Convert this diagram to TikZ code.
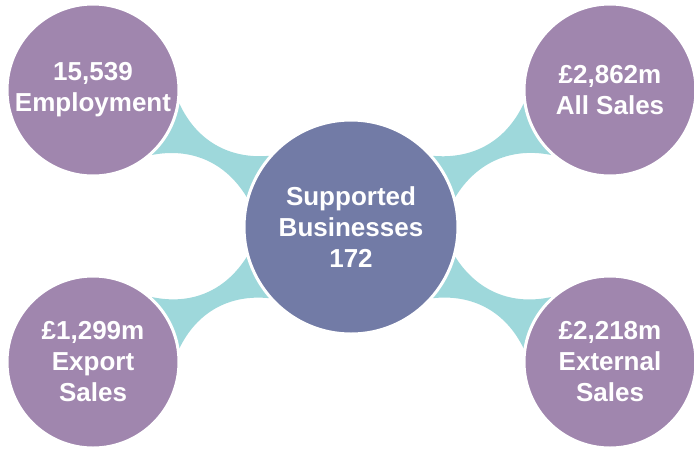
\documentclass[tikz,border=0pt]{standalone}
\usepackage{fontspec}
\setmainfont{Liberation Sans}
\usetikzlibrary{backgrounds}
\definecolor{bubblepurple}{HTML}{A086AE}
\definecolor{hubblue}{HTML}{727BA6}
\definecolor{linkteal}{HTML}{9ED8DB}
\tikzset{
  bubble/.style={shape=circle,fill=bubblepurple,draw=white,line width=3pt,
    minimum size=172pt,inner sep=0pt,align=center,text=white,
    font=\fontsize{26}{31}\selectfont\bfseries},
  hub/.style={bubble,fill=hubblue,minimum size=214pt},
  linkshape/.style={fill=linkteal}
}
\begin{document}
\begin{tikzpicture}[x=1pt,y=-1pt]
  \useasboundingbox (0,0) rectangle (694,448);
  \node[hub] (sup) at (351,227) {Supported\\Businesses\\172};
  \node[bubble] (emp) at (93,90) {15,539\\Employment};
  \node[bubble] (all) at (610,90) {£2,862m\\All Sales};
  \node[bubble] (exp) at (93,362) {£1,299m\\Export\\Sales};
  \node[bubble] (ext) at (610,362) {£2,218m\\External\\Sales};

  % teal links between the bubbles
  \begin{scope}[on background layer]
    \foreach \o/\p/\r/\s/\q in {emp/-9/139/164/-48, all/228/16/41/189,
                                exp/48/196/221/9, ext/171/319/344/132}
      \fill[linkshape] (\o.\p) to[bend right=35] (sup.\r) -- (sup.center)
        -- (sup.\s) to[bend right=35] (\o.\q) -- (\o.center) -- cycle;
  \end{scope}
\end{tikzpicture}
\end{document}
